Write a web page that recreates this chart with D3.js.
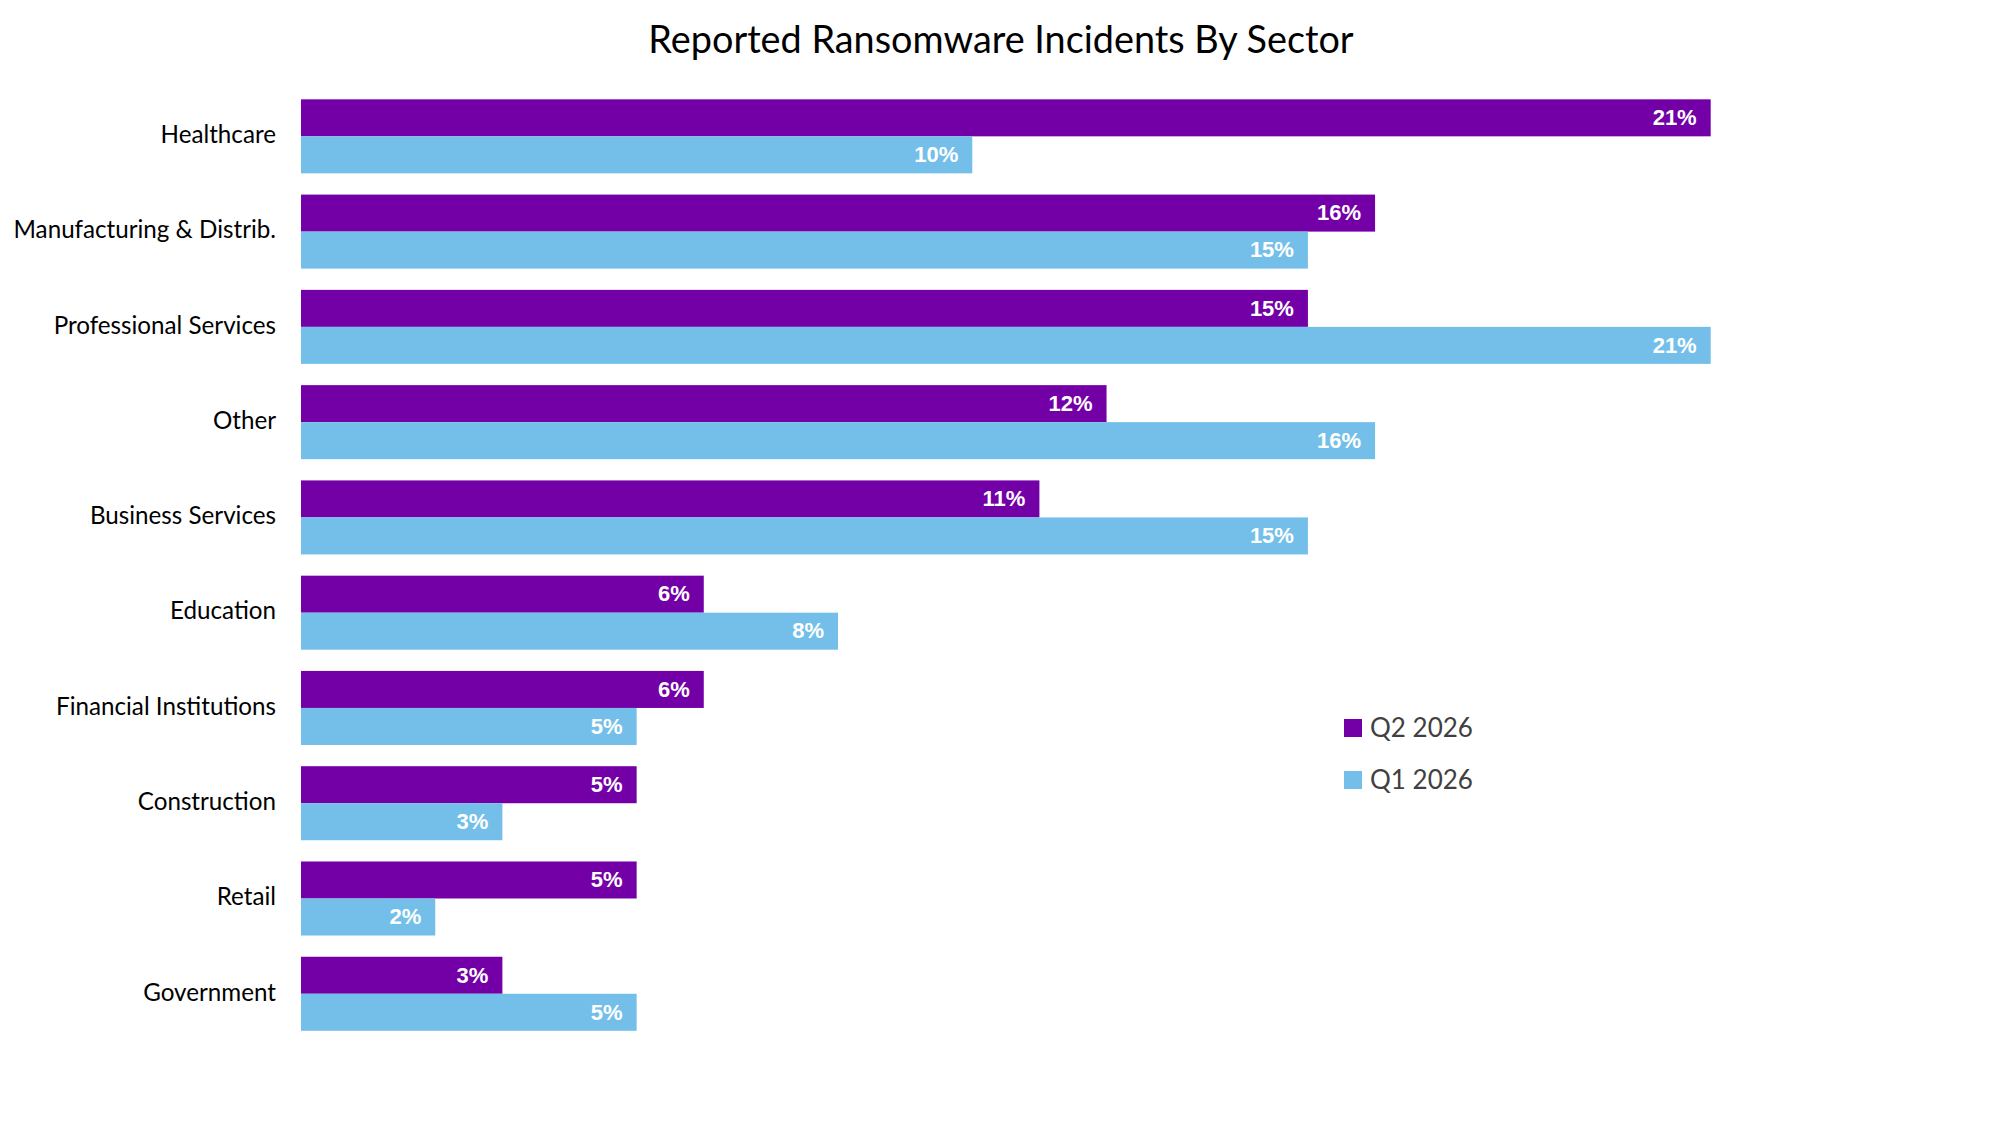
<!DOCTYPE html>
<html>
<head>
<meta charset="utf-8">
<script src="https://cdn.jsdelivr.net/npm/d3@7"></script>
<style>
  html, body { margin: 0; padding: 0; background: #ffffff; }
  svg { display: block; }
</style>
</head>
<body>
<svg id="chart" width="1999" height="1122"></svg>
<script>
const categories = ["Healthcare", "Manufacturing & Distrib.", "Professional Services", "Other", "Business Services", "Education", "Financial Institutions", "Construction", "Retail", "Government"];
const seriesNames = ["Q2 2026", "Q1 2026"];
const q2Values = [21, 16, 15, 12, 11, 6, 6, 5, 5, 3];
const q1Values = [10, 15, 21, 16, 15, 8, 5, 3, 2, 5];
const colors = ["#7300A6", "#74BFE9"];
const titleText = "Reported Ransomware Incidents By Sector";

const svg = d3.select("#chart");
const labelFont = "Lato, 'Noto Sans', sans-serif";

const x = d3.scaleLinear().domain([0, 21]).range([301, 1710.7]);
const y = d3.scaleBand().domain(categories).range([88.7, 1041.4]).paddingInner(0.223).paddingOuter(0.1115);
const ySub = d3.scaleBand().domain(seriesNames).range([0, y.bandwidth()]);
const color = d3.scaleOrdinal().domain(seriesNames).range(colors);

const rows = categories.map((c, i) => ({ category: c, values: [
  { series: seriesNames[0], value: q2Values[i] },
  { series: seriesNames[1], value: q1Values[i] }
]}));

// Title
svg.append("text")
  .attr("x", 1001).attr("y", 53)
  .attr("text-anchor", "middle")
  .style("font-family", labelFont)
  .style("font-size", "37.8px")
  .style("fill", "#000")
  .text(titleText);

// Category axis labels
const yAxis = d3.axisLeft(y).tickSize(0).tickPadding(25);
const gAxis = svg.append("g").attr("transform", "translate(301,0)").call(yAxis);
gAxis.select(".domain").remove();
gAxis.selectAll("text")
  .style("font-family", labelFont)
  .style("font-size", "24.2px")
  .style("fill", "#000")
  .attr("dy", "0.28em");

// Bars
const groups = svg.append("g").selectAll("g.row")
  .data(rows).join("g")
  .attr("class", "row")
  .attr("transform", d => `translate(0,${y(d.category)})`);

groups.selectAll("rect")
  .data(d => d.values).join("rect")
  .attr("x", x(0))
  .attr("y", d => ySub(d.series))
  .attr("width", d => x(d.value) - x(0))
  .attr("height", ySub.bandwidth())
  .attr("fill", d => color(d.series));

groups.selectAll("text.val")
  .data(d => d.values).join("text")
  .attr("class", "val")
  .attr("x", d => x(d.value) - 14)
  .attr("y", d => ySub(d.series) + ySub.bandwidth() / 2)
  .attr("dy", "0.33em")
  .attr("text-anchor", "end")
  .style("font-family", "'Liberation Sans', Arial, sans-serif")
  .style("font-weight", "bold")
  .style("font-size", "22px")
  .style("fill", "#ffffff")
  .text(d => d.value + "%");

// Legend
const legend = svg.append("g").attr("transform", "translate(1344,719)");
const li = legend.selectAll("g").data(seriesNames).join("g")
  .attr("transform", (d, i) => `translate(0,${i * 52})`);
li.append("rect").attr("width", 18).attr("height", 18).attr("fill", d => color(d));
li.append("text")
  .attr("x", 26).attr("y", 9).attr("dy", "0.35em")
  .style("font-family", labelFont)
  .style("font-size", "26px")
  .style("fill", "#404040")
  .text(d => d);
</script>
</body>
</html>
